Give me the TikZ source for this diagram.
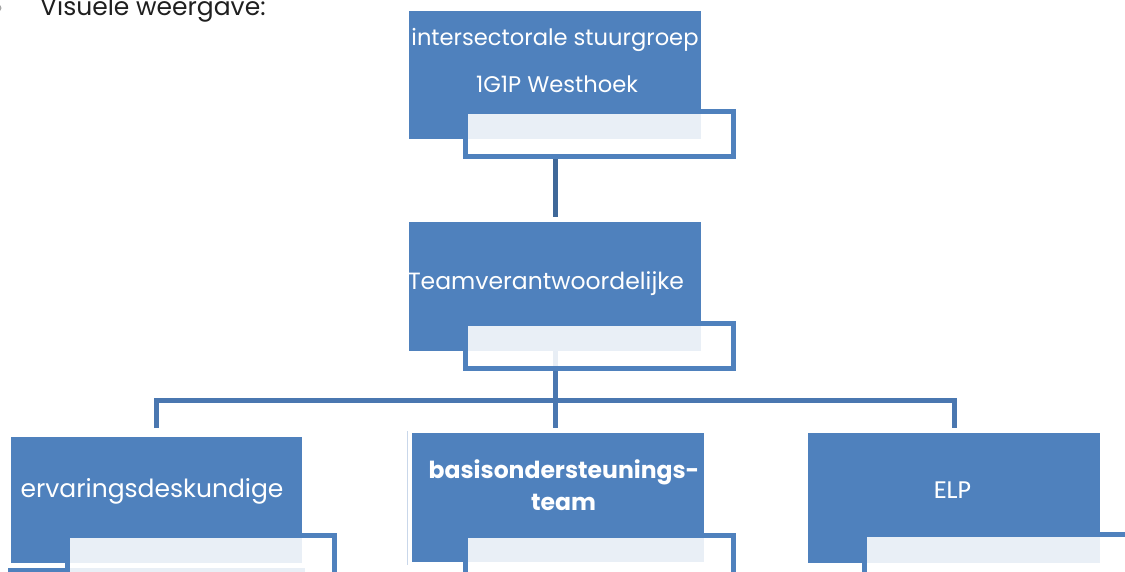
\documentclass[tikz,border=0pt]{standalone}
\usepackage{fontspec}
\setmainfont{Poppins}
\newfontfamily\calib{Carlito}
\usetikzlibrary{backgrounds}
\definecolor{boxblue}{HTML}{4F81BD}
\definecolor{linkblue}{HTML}{4A77B0}
\definecolor{darklink}{HTML}{3F6899}
\definecolor{hairline}{HTML}{C9D7EA}
\definecolor{titlegray}{HTML}{1F1F1F}
\begin{document}
\begin{tikzpicture}[x=1pt,y=-1pt,
  bluebox/.style={fill=boxblue, draw=none, anchor=north west, inner sep=0pt, outer sep=0pt},
  secbox/.style={fill=white, fill opacity=0.88, draw=boxblue, draw opacity=1, line width=5pt,
                 anchor=north west, inner sep=0pt, outer sep=0pt},
  link/.style={draw=linkblue, line width=5pt},
  toplink/.style={draw=darklink, line width=5pt},
  lbl/.style={text=white, font=\fontsize{23.5}{28}\selectfont, anchor=base, inner sep=0pt},
  boldlbl/.style={text=white, font=\fontsize{23.5}{28}\selectfont\bfseries, anchor=base, inner sep=0pt},
  title/.style={text=titlegray, font=\fontsize{25}{30}\selectfont, anchor=base west, inner sep=0pt}
]
\useasboundingbox (0,0) rectangle (1125,571);

% title with cut-off bullet
\fill[gray!70] (-2,8) circle (3.5pt);
\node[title] (titel) at (40,15) {Visuele weergave:};

% level 1
\node[bluebox, minimum width=292pt, minimum height=128pt] (top) at (409,11) {};
\node[secbox, minimum width=268pt, minimum height=45pt] (topsec) at (465.5,111.5) {};
\node[lbl, font=\fontsize{22.6}{27}\selectfont] (toptxt1) at (555,45) {intersectorale stuurgroep};
\node[lbl, font=\fontsize{22.6}{27}\selectfont] (toptxt2) at (557,92) {1G1P Westhoek};

% level 2
\node[bluebox, minimum width=292pt, minimum height=129pt] (mid) at (409,222) {};
\node[secbox, minimum width=268pt, minimum height=45pt] (midsec) at (465.5,323.5) {};
\node[lbl] (midtxt) at (546,289) {Teamverantwoordelijke};

% hairline
\draw[hairline, line width=1pt] (407,431) -- (407,565);

% level 3
\node[bluebox, minimum width=297pt, minimum height=20pt] (nextrow) at (8,568) {};
\node[bluebox, minimum width=291pt, minimum height=126pt] (left) at (11,437) {};
\node[secbox, minimum width=267pt, minimum height=60pt] (leftsec) at (67.5,535.5) {};
\node[lbl, font=\fontsize{25}{30}\selectfont] (lefttxt) at (152,497) {ervaringsdeskundige};

\node[bluebox, minimum width=292pt, minimum height=129pt] (bas) at (412,433) {};
\node[secbox, minimum width=268pt, minimum height=60pt] (bassec) at (465.5,535.5) {};
\node[boldlbl] (bastxt1) at (564,478) {basisondersteunings-};
\node[boldlbl] (bastxt2) at (563.5,510) {team};

\node[bluebox, minimum width=292pt, minimum height=130pt] (elp) at (808,433) {};
\node[secbox, minimum width=300pt, minimum height=60pt] (elpsec) at (864.5,534.5) {};
\node[text=white, font=\calib\fontsize{26}{30}\selectfont, anchor=base, inner sep=0pt] (elptxt) at (952.5,498) {ELP};

% connectors
\coordinate (bar) at (555,400);
\begin{scope}[on background layer]
  \fill[white] (0,0) rectangle (1125,571);
  \draw[toplink, shorten >=5pt] (top.south |- topsec.south) -- (top.south |- mid.north);
  \draw[link] (mid.south) -- (bar);
  \draw[link, shorten <=9pt, shorten >=5pt] (left.north) |- (bar) -| (elp.north);
  \draw[link, shorten >=5pt] (bar) -- (bar |- bas.north);
\end{scope}
\end{tikzpicture}
\end{document}
